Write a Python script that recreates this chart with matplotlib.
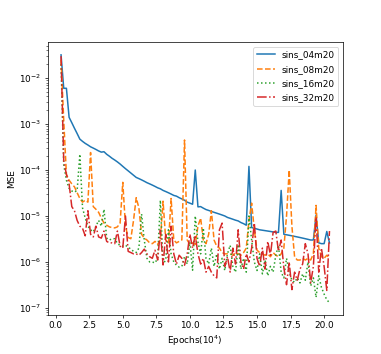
import matplotlib
matplotlib.use("Agg")
import matplotlib.pyplot as plt
from matplotlib.ticker import MultipleLocator

# epochs in units of 1e4, one point every 2000 epochs
epochs = [round(0.4 + 0.2 * i, 1) for i in range(101)]

labels = ["sins_04m20", "sins_08m20", "sins_16m20", "sins_32m20"]

mse_04 = [
    3.2e-2, 6.0e-3, 6.0e-3, 1.4e-3, 1.07e-3, 8.1e-4, 6.2e-4, 4.7e-4, 4.2e-4, 3.8e-4,
    3.5e-4, 3.2e-4, 3.0e-4, 2.8e-4, 2.6e-4, 2.45e-4, 2.5e-4, 2.2e-4, 2.0e-4, 1.8e-4,
    1.65e-4, 1.5e-4, 1.35e-4, 1.2e-4, 1.07e-4, 9.6e-5, 8.6e-5, 7.7e-5, 6.9e-5, 6.5e-5,
    6.1e-5, 5.7e-5, 5.3e-5, 5.0e-5, 4.7e-5, 4.4e-5, 4.1e-5, 3.9e-5, 3.6e-5, 3.4e-5,
    3.2e-5, 3.0e-5, 2.8e-5, 2.7e-5, 2.5e-5, 2.35e-5, 2.2e-5, 2.0e-5, 1.9e-5, 1.8e-5,
    1.0e-4, 1.58e-5, 1.6e-5, 1.48e-5, 1.38e-5, 1.32e-5, 1.26e-5, 1.2e-5, 1.15e-5, 1.1e-5,
    1.05e-5, 1.0e-5, 9.3e-6, 8.9e-6, 8.5e-6, 8.1e-6, 7.8e-6, 7.2e-6, 6.8e-6, 6.3e-6,
    1.2e-4, 5.6e-6, 5.4e-6, 5.2e-6, 5.0e-6, 4.9e-6, 4.8e-6, 4.7e-6, 4.6e-6, 4.5e-6,
    4.4e-6, 4.4e-6, 3.6e-5, 4.0e-6, 3.9e-6, 3.8e-6, 3.7e-6, 3.6e-6, 3.5e-6, 3.4e-6,
    3.3e-6, 3.2e-6, 3.1e-6, 3.0e-6, 3.0e-6, 1.05e-5, 2.6e-6, 2.5e-6, 2.5e-6, 4.6e-6,
    2.6e-6,
]

mse_08 = [
    2.5e-2, 1.2e-3, 8.0e-5, 6.0e-5, 5.0e-5, 4.3e-5, 3.2e-5, 2.4e-5, 2.0e-5, 2.2e-5,
    2.0e-5, 2.4e-4, 1.6e-5, 1.4e-5, 1.2e-5, 9.0e-6, 7.0e-6, 6.3e-6, 5.8e-6, 5.6e-6,
    5.5e-6, 5.8e-6, 7.0e-6, 5.4e-5, 6.0e-6, 3.4e-6, 3.2e-6, 8.0e-6, 2.5e-5, 1.5e-5,
    4.0e-6, 3.3e-6, 3.0e-6, 2.6e-6, 2.5e-6, 2.8e-6, 2.4e-6, 3.0e-6, 2.1e-5, 3.0e-6,
    2.5e-6, 2.4e-5, 3.0e-6, 2.6e-6, 2.8e-6, 3.0e-6, 4.5e-4, 3.0e-6, 2.4e-6, 2.6e-6,
    2.4e-6, 6.0e-6, 9.0e-6, 3.0e-6, 2.5e-6, 4.0e-6, 1.3e-5, 3.0e-6, 2.2e-6, 2.0e-6,
    1.6e-6, 1.5e-6, 1.5e-6, 1.5e-6, 1.4e-6, 1.6e-6, 1.5e-6, 1.4e-6, 1.6e-6, 2.0e-6,
    8.0e-6, 1.9e-5, 5.0e-6, 1.8e-6, 1.6e-6, 1.5e-6, 1.4e-6, 1.5e-6, 1.3e-6, 1.6e-6,
    1.4e-6, 1.3e-6, 1.5e-6, 2.0e-6, 1.0e-5, 1.0e-4, 6.0e-6, 1.3e-6, 1.1e-6, 1.1e-6,
    1.2e-6, 1.1e-6, 1.2e-6, 1.1e-6, 1.5e-6, 1.7e-5, 2.0e-6, 1.3e-6, 1.2e-6, 1.4e-6,
    1.2e-6,
]

mse_16 = [
    2.0e-2, 1.3e-4, 6.0e-5, 4.0e-5, 3.5e-5, 3.3e-5, 3.6e-5, 2.2e-4, 1.5e-5, 9.0e-6,
    6.0e-6, 5.0e-6, 4.5e-6, 6.0e-6, 8.0e-6, 6.0e-6, 1.4e-5, 3.3e-6, 3.0e-6, 3.2e-6,
    3.2e-6, 2.5e-6, 2.3e-6, 2.2e-6, 2.3e-6, 2.1e-6, 1.9e-6, 1.7e-6, 1.6e-6, 2.0e-6,
    1.1e-5, 3.0e-6, 1.2e-6, 1.0e-6, 1.0e-6, 9.5e-7, 1.2e-6, 2.2e-5, 9.0e-7, 1.1e-6,
    5.0e-6, 1.5e-6, 1.0e-6, 8.5e-7, 7.7e-7, 8.0e-7, 1.3e-6, 9.0e-7, 2.7e-6, 6.6e-7,
    1.0e-5, 2.7e-6, 1.5e-6, 5.5e-6, 1.2e-6, 9.0e-7, 2.0e-6, 8.0e-7, 1.5e-6, 7.0e-7,
    1.2e-6, 6.5e-7, 1.5e-6, 2.3e-6, 8.0e-7, 6.0e-7, 2.4e-6, 7.0e-7, 1.2e-6, 6.0e-7,
    1.0e-5, 3.0e-6, 1.0e-6, 6.5e-7, 1.5e-6, 5.5e-7, 1.1e-6, 5.0e-7, 8.0e-7, 6.0e-7,
    1.4e-6, 2.3e-6, 6.0e-7, 4.5e-7, 1.2e-6, 6.0e-7, 4.0e-7, 3.6e-7, 4.5e-7, 3.5e-7,
    5.5e-7, 4.0e-7, 1.0e-6, 3.0e-7, 4.5e-7, 1.7e-7, 5.0e-7, 2.8e-7, 2.0e-7, 1.5e-7,
    1.3e-7,
]

mse_32 = [
    3.0e-2, 1.6e-4, 8.0e-5, 5.0e-5, 1.6e-5, 1.3e-5, 8.0e-6, 6.0e-6, 5.4e-6, 3.7e-6,
    1.3e-5, 4.0e-6, 3.5e-6, 6.0e-6, 3.5e-6, 3.3e-6, 4.7e-6, 2.8e-6, 2.6e-6, 2.6e-6,
    2.5e-6, 4.7e-6, 2.2e-6, 2.0e-6, 1.0e-5, 1.7e-6, 1.6e-6, 1.5e-6, 1.5e-6, 1.4e-6,
    1.6e-6, 1.9e-6, 1.5e-6, 1.3e-6, 1.2e-6, 1.8e-6, 1.1e-6, 4.9e-6, 8.6e-7, 4.0e-6,
    1.0e-6, 6.0e-6, 1.5e-6, 9.0e-7, 1.4e-6, 1.2e-6, 8.5e-7, 1.5e-6, 4.0e-6, 2.0e-6,
    3.8e-6, 1.5e-6, 9.0e-7, 1.2e-6, 6.0e-7, 8.0e-7, 6.0e-7, 5.0e-7, 4.5e-7, 5.0e-6,
    7.0e-6, 8.0e-7, 1.3e-6, 6.0e-7, 2.0e-6, 9.0e-7, 5.0e-6, 1.0e-6, 7.0e-7, 1.5e-6,
    1.0e-6, 2.0e-6, 7.0e-6, 1.2e-6, 8.0e-7, 2.0e-6, 7.0e-7, 2.8e-6, 1.4e-6, 4.4e-6,
    4.7e-6, 1.7e-6, 3.0e-6, 7.5e-7, 3.2e-7, 1.0e-6, 2.5e-7, 6.0e-7, 4.0e-7, 7.0e-7,
    9.0e-7, 2.5e-6, 1.5e-6, 3.5e-7, 8.0e-7, 9.5e-6, 6.0e-7, 2.0e-6, 8.0e-7, 2.4e-7,
    4.7e-6,
]

styles = ["-", "--", ":", "-."]

fig, ax = plt.subplots(figsize=(381 / 64, 354 / 64), dpi=64)

for series, label, ls in zip([mse_04, mse_08, mse_16, mse_32], labels, styles):
    ax.plot(epochs, series, ls, label=label, lw=1.7)

ax.set_yscale("log")
ax.xaxis.set_major_locator(MultipleLocator(2.5))
ax.set_xlabel("Epochs(10$^4$)")
ax.set_ylabel("MSE")
ax.legend(loc="upper right", labelspacing=0.6)

fig.savefig("out.png", dpi=64)
